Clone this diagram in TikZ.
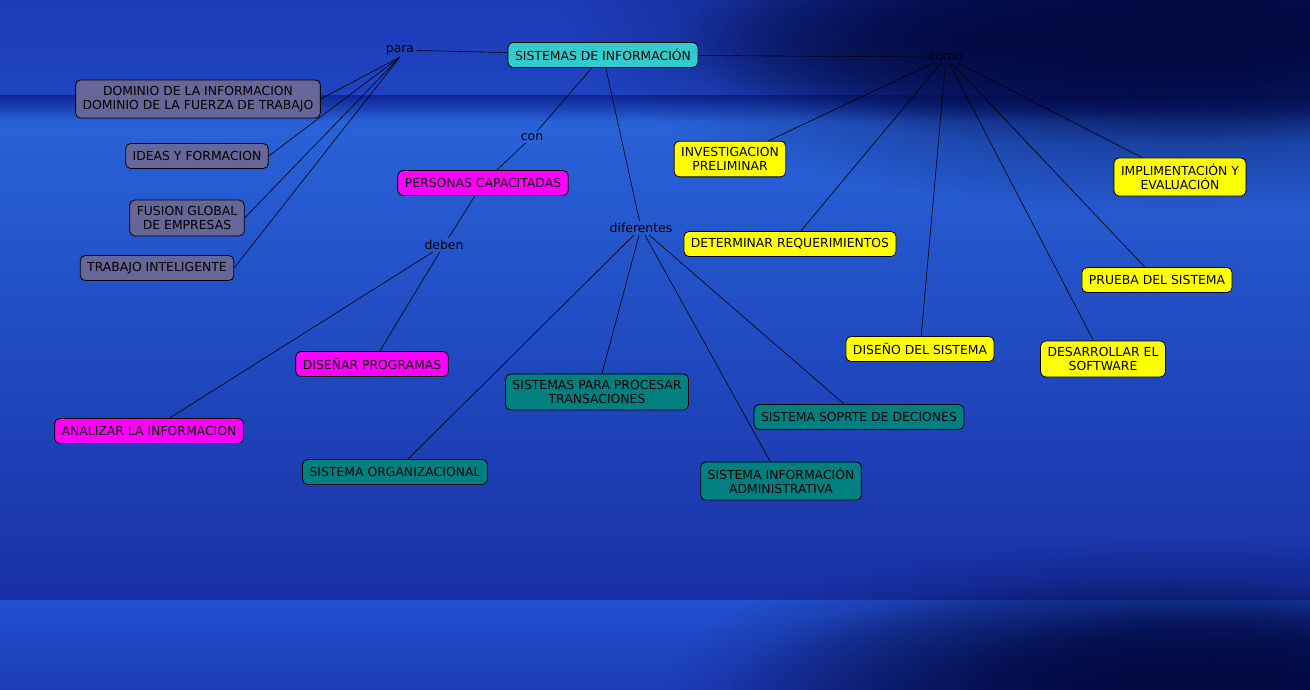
\documentclass[tikz,border=0pt]{standalone}
\usepackage{fontspec}
\setmainfont{DejaVu Sans}
\usepackage{xcolor}
\definecolor{sistcyan}{HTML}{33CCCC}
\definecolor{grisviol}{HTML}{666699}
\definecolor{magenta2}{HTML}{FF00FF}
\definecolor{amarillo}{HTML}{FFFF00}
\definecolor{verdeazul}{HTML}{008080}
\definecolor{bgtop}{HTML}{1D3CBA}
\definecolor{bgband}{HTML}{0E2596}
\definecolor{bglight}{HTML}{2962D8}
\definecolor{bglow}{HTML}{1830A6}
\definecolor{bgfoot}{HTML}{2250CE}
\definecolor{navy}{HTML}{030B45}
\usetikzlibrary{positioning, fadings}
\tikzfading[name=mancha, inner color=transparent!0, outer color=transparent!100]

\begin{document}
\begin{tikzpicture}[
          x=1pt, y=-1pt,
          every node/.style = {font=\fontsize{12.4}{14.5}\selectfont},
          concepto/.style = {draw=black, rounded corners=5pt, line width=0.8pt,
                             inner xsep=7pt, inner ysep=6pt, minimum height=25pt,
                             align=center, text=black},
          enlace/.style = {inner sep=2pt, text=black},
          linea/.style = {draw=black, line width=0.6pt},
          sombra/.style = {fill=navy, path fading=mancha},
        ]
        %% Fondo
        \useasboundingbox (0,0) rectangle (1310,689);
        \shade[top color=bgtop, bottom color=bgtop!80!bglight] (0,0) rectangle (1310,96);
        \shade[top color=bgband, bottom color=bglight] (0,95) rectangle (1310,122);
        \shade[top color=bglight, bottom color=bglow] (0,121) rectangle (1310,601);
        \shade[top color=bgfoot, bottom color=bgtop] (0,600) rectangle (1310,689);
        \fill[sombra] (1180,20) ellipse [x radius=620, y radius=190];
        \fill[sombra] (1230,30) ellipse [x radius=360, y radius=110];
        \fill[sombra] (1150,45) ellipse [x radius=480, y radius=100];
        \fill[sombra] (1000,40) ellipse [x radius=320, y radius=80];
        \fill[sombra] (1180,689) ellipse [x radius=520, y radius=150];
        \fill[sombra] (1150,689) ellipse [x radius=420, y radius=110];
        \fill[sombra] (1260,680) ellipse [x radius=300, y radius=80];

        %% Conceptos
        \node[concepto, fill=sistcyan] (sis) at (603,55) {SISTEMAS DE INFORMACIÓN};
        \node[enlace] (para) at (400,50) {para};
        \node[enlace] (como) at (946,57) {como};

        \node[concepto, fill=grisviol] (dom) at (198,99) {DOMINIO DE LA INFORMACION\\DOMINIO DE LA FUERZA DE TRABAJO};
        \node[concepto, fill=grisviol] (ideas) at (197,156) {IDEAS Y FORMACION};
        \node[concepto, fill=grisviol] (fusion) at (187,218) {FUSION GLOBAL\\DE EMPRESAS};
        \node[concepto, fill=grisviol] (trabajo) at (157,268) {TRABAJO INTELIGENTE};

        \node[enlace] (con) at (532,137) {con};
        \node[concepto, fill=magenta2] (personas) at (483,183) {PERSONAS CAPACITADAS};
        \node[enlace] (deben) at (444,245) {deben};
        \node[concepto, fill=magenta2] (disenar) at (372,364) {DISEÑAR PROGRAMAS};
        \node[concepto, fill=magenta2] (analizar) at (149,431) {ANALIZAR LA INFORMACION};

        \node[enlace] (dif) at (641,228) {diferentes};
        \node[concepto, fill=verdeazul] (spt) at (597,392) {SISTEMAS PARA PROCESAR\\TRANSACIONES};
        \node[concepto, fill=verdeazul] (org) at (395,472) {SISTEMA ORGANIZACIONAL};
        \node[concepto, fill=verdeazul] (ssd) at (859,417) {SISTEMA SOPRTE DE DECIONES};
        \node[concepto, fill=verdeazul] (sia) at (781,481) {SISTEMA INFORMACIÓN\\ADMINISTRATIVA};

        \node[concepto, fill=amarillo] (inv) at (730,159) {INVESTIGACION\\PRELIMINAR};
        \node[concepto, fill=amarillo] (det) at (790,244) {DETERMINAR REQUERIMIENTOS};
        \node[concepto, fill=amarillo] (dis) at (920,349) {DISEÑO DEL SISTEMA};
        \node[concepto, fill=amarillo] (desa) at (1103,359) {DESARROLLAR EL\\SOFTWARE};
        \node[concepto, fill=amarillo] (prueba) at (1157,280) {PRUEBA DEL SISTEMA};
        \node[concepto, fill=amarillo] (impl) at (1180,177) {IMPLIMENTACIÓN Y\\EVALUACIÓN};

        %% Enlaces
        \draw[linea] (para) -- (sis);
        \foreach \c in {dom, ideas, fusion, trabajo}
          \draw[linea] (para.south) -- (\c.east);
        \draw[linea] (sis) -- (como);
        \foreach \c in {inv, det, dis, desa, prueba, impl}
          \draw[linea] (como) -- (\c);
        \draw[linea] (sis) -- (con);
        \draw[linea] (con) -- (personas);
        \draw[linea] (personas) -- (deben);
        \draw[linea] (deben) -- (disenar);
        \draw[linea] (deben) -- (analizar);
        \draw[linea] (sis) -- (dif);
        \foreach \c in {spt, org, ssd, sia}
          \draw[linea] (dif) -- (\c);
      \end{tikzpicture}
\end{document}
